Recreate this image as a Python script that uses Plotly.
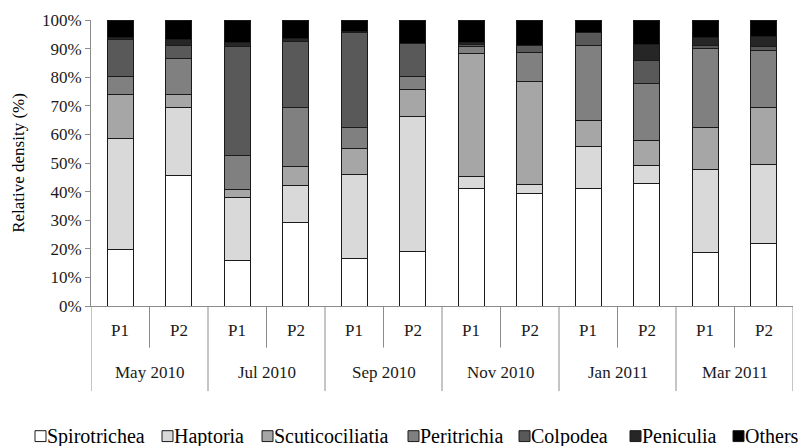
import plotly.graph_objects as go

# Sampling campaigns and sites
months = ["May 2010", "Jul 2010", "Sep 2010", "Nov 2010", "Jan 2011", "Mar 2011"]
sites = ["P1", "P2"]

# Relative density (%) of each ciliate group, one value per month/site bar
groups = ["Spirotrichea", "Haptoria", "Scuticociliatia", "Peritrichia",
          "Colpodea", "Peniculia", "Others"]
spirotrichea = [19.6, 45.6, 15.9, 29.1, 16.5, 19.1, 41.0, 39.4, 41.0, 42.7, 18.7, 21.9]
haptoria = [38.9, 23.9, 22.2, 13.2, 29.6, 47.0, 4.4, 3.1, 14.8, 6.3, 29.1, 27.7]
scuticociliatia = [15.6, 4.6, 2.5, 6.4, 9.0, 9.6, 42.9, 36.0, 9.1, 8.9, 14.7, 19.7]
peritrichia = [6.3, 12.3, 11.9, 20.8, 7.4, 4.7, 2.6, 10.0, 26.3, 19.8, 27.6, 20.0]
colpodea = [12.8, 4.8, 38.4, 22.9, 33.3, 11.4, 0.7, 2.5, 4.3, 8.3, 0.9, 1.5]
peniculia = [0.6, 2.0, 1.1, 1.0, 0.2, 0.1, 0.4, 0.2, 0.1, 5.6, 3.0, 3.4]
others = [6.2, 6.8, 8.0, 6.6, 4.0, 8.1, 8.0, 8.8, 4.4, 8.4, 6.0, 5.8]

y_ticks = [0, 10, 20, 30, 40, 50, 60, 70, 80, 90, 100]
y_tick_text = [f"{v}%" for v in y_ticks]

series = [spirotrichea, haptoria, scuticociliatia, peritrichia, colpodea, peniculia, others]
fills = ["#ffffff", "#d9d9d9", "#a6a6a6", "#808080", "#595959", "#262626", "#000000"]

FONT = "Liberation Serif, Times New Roman, serif"
AXIS_GREY = "#8c8c8c"

W, H = 804, 446
ML, MR, MT, MB = 91, 11, 17, 140
plot_w = W - ML - MR
plot_h = H - MT - MB

x_cat = [[m for m in months for _ in sites], sites * len(months)]


def below_axis(px):
    """Paper y coordinate for a point px pixels under the x axis."""
    return -px / plot_h


fig = go.Figure()
for name, vals, col in zip(groups, series, fills):
    fig.add_trace(go.Bar(
        x=x_cat, y=vals, name=name,
        marker=dict(color=col, line=dict(color="#1a1a1a", width=1)),
        width=0.44, showlegend=False,
    ))

shapes = []
annotations = []

# two-level category labels under the axis: sites, then months
for i, m in enumerate(months):
    for j, s in enumerate(sites):
        annotations.append(dict(xref="x", yref="paper", x=2 * i + j, y=below_axis(25),
                                text=s, showarrow=False, xanchor="center", yanchor="middle",
                                font=dict(family=FONT, size=17, color="#1a1a1a")))
    annotations.append(dict(xref="x", yref="paper", x=2 * i + 0.5, y=below_axis(67),
                            text=m, showarrow=False, xanchor="center", yanchor="middle",
                            font=dict(family=FONT, size=17, color="#1a1a1a")))
    # short separator between the two sites of a month
    shapes.append(dict(type="line", xref="x", yref="paper",
                       x0=2 * i + 0.5, x1=2 * i + 0.5, y0=0, y1=below_axis(42),
                       line=dict(color=AXIS_GREY, width=1)))
# long separators between months
for i in range(len(months) + 1):
    xb = 2 * i - 0.5
    shapes.append(dict(type="line", xref="x", yref="paper",
                       x0=xb, x1=xb, y0=0, y1=below_axis(86),
                       line=dict(color=AXIS_GREY, width=1)))

# legend row: swatch + label
legend_x = [35, 162, 262, 408, 519, 630, 733]
legend_y = 437.5
for name, col, px in zip(groups, fills, legend_x):
    x0 = (px - ML) / plot_w
    x1 = (px + 11 - ML) / plot_w
    shapes.append(dict(type="rect", xref="paper", yref="paper",
                       x0=x0, x1=x1,
                       y0=below_axis(legend_y - 5.5 - MT - plot_h),
                       y1=below_axis(legend_y + 5.5 - MT - plot_h),
                       fillcolor=col, line=dict(color="#1a1a1a", width=1)))
    annotations.append(dict(xref="paper", yref="paper",
                            x=(px + 10 - ML) / plot_w,
                            y=below_axis(legend_y - MT - plot_h),
                            text=name, showarrow=False, xanchor="left", yanchor="middle",
                            font=dict(family=FONT, size=20, color="#000000")))

fig.update_layout(
    width=W, height=H,
    margin=dict(l=ML, r=MR, t=MT, b=MB),
    paper_bgcolor="white", plot_bgcolor="white",
    barmode="stack",
    font=dict(family=FONT, size=17, color="#1a1a1a"),
    shapes=shapes, annotations=annotations,
)
fig.update_xaxes(
    type="multicategory",
    showline=True, linecolor=AXIS_GREY, linewidth=1,
    showgrid=False, ticks="", showdividers=False, showticklabels=False,
    range=[-0.5, 11.5],
)
fig.update_yaxes(
    range=[0, 100], tickvals=y_ticks, ticktext=y_tick_text,
    showline=True, linecolor=AXIS_GREY, linewidth=1,
    ticks="outside", ticklen=5, tickcolor=AXIS_GREY,
    showgrid=False, zeroline=False,
    tickfont=dict(family=FONT, size=17, color="#1a1a1a"),
    title=dict(text="Relative density (%)", standoff=12,
               font=dict(family=FONT, size=17, color="#000000")),
)

fig.write_html("out.html")
